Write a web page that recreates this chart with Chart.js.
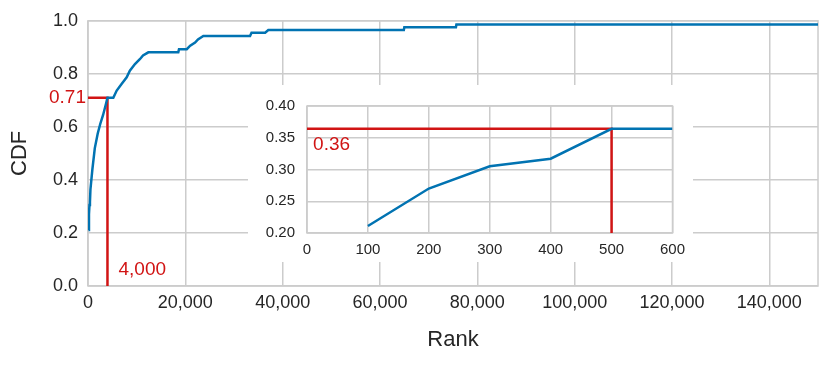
<!DOCTYPE html>
<html>
<head>
<meta charset="utf-8">
<script src="https://cdn.jsdelivr.net/npm/chart.js@4.4.1/dist/chart.umd.min.js"></script>
<style>
  html, body { margin: 0; padding: 0; background: #fff; }
  #wrap { position: relative; width: 831px; height: 365px; }
  #mainChart { position: absolute; left: 0; top: 0; }
  #insetChart { position: absolute; left: 248px; top: 85px; background: #fff; }
</style>
</head>
<body>
<div id="wrap">
  <canvas id="mainChart" width="831" height="365"></canvas>
  <canvas id="insetChart" width="445" height="177"></canvas>
</div>
<script>
// CDF by rank
const ranks = [100, 200, 300, 400, 500, 900, 1400, 2000, 2500, 3100, 3700, 4000,
    5200, 5900, 6900, 7950, 8600, 9650, 10700, 11300, 12400, 18550, 18700, 20300,
    21000, 22000, 22600, 23700, 33300, 33600, 36400, 37050, 64900, 65000, 75600,
    75700, 150000];
const cdf = [0.211, 0.270, 0.305, 0.317, 0.364, 0.44, 0.52, 0.575, 0.61, 0.645, 0.687, 0.71,
    0.71, 0.737, 0.762, 0.787, 0.812, 0.837, 0.856, 0.869, 0.881, 0.881, 0.893, 0.893,
    0.906, 0.918, 0.930, 0.943, 0.943, 0.955, 0.955, 0.965, 0.965, 0.976, 0.976,
    0.986, 0.986];

// zoomed view of the first ranks
const insetRanks = [100, 200, 300, 400, 500, 600];
const insetCdf = [0.211, 0.270, 0.305, 0.317, 0.364, 0.364];

// marker lines
const markRank = 4000, markCdf = 0.71;
const insetMarkRank = 500, insetMarkCdf = 0.364;

// ticks and axis ranges
const xTicksMain = [0, 20000, 40000, 60000, 80000, 100000, 120000, 140000];
const yTicksMain = [0, 0.2, 0.4, 0.6, 0.8, 1.0];
const xTicksInset = [0, 100, 200, 300, 400, 500, 600];
const yTicksInset = [0.20, 0.25, 0.30, 0.35, 0.40];
const xRangeMain = [0, 150000], yRangeMain = [0, 1];
const xRangeInset = [0, 600], yRangeInset = [0.2, 0.4];

const blue = '#0173b2';
const red = '#d11414';
const gridColor = '#cccccc';
const textColor = '#262626';
const fontFamily = '"Liberation Sans", Arial, sans-serif';

function pts(xs, ys) {
    return xs.map((x, i) => ({ x: x, y: ys[i] }));
}

// box round the plot area
const frame = {
    id: 'frame',
    beforeDatasetsDraw(chart) {
        const a = chart.chartArea, ctx = chart.ctx;
        ctx.save();
        ctx.strokeStyle = gridColor;
        ctx.lineWidth = 1.5;
        ctx.strokeRect(a.left, a.top, a.right - a.left, a.bottom - a.top);
        ctx.restore();
    }
};

function labels(items) {
    return {
        id: 'labels',
        afterDatasetsDraw(chart) {
            const ctx = chart.ctx, xs = chart.scales.x, ys = chart.scales.y;
            ctx.save();
            ctx.fillStyle = red;
            ctx.font = '19px ' + fontFamily;
            ctx.textBaseline = 'middle';
            items.forEach(it => {
                ctx.textAlign = it.align;
                ctx.fillText(it.text, xs.getPixelForValue(it.x) + it.dx, ys.getPixelForValue(it.y));
            });
            ctx.restore();
        }
    };
}

function scaleOpts(range, tickVals, size, pad, fmt, fit) {
    return {
        type: 'linear',
        min: range[0], max: range[1],
        grid: { color: gridColor, lineWidth: 1.5, drawTicks: false },
        border: { display: false },
        ticks: {
            padding: pad, autoSkip: false,
            color: textColor, font: { size: size, family: fontFamily },
            callback: fmt
        },
        afterBuildTicks: s => { s.ticks = tickVals.map(v => ({ value: v })); },
        afterFit: fit
    };
}

Chart.defaults.animation = false;

new Chart(document.getElementById('mainChart'), {
    type: 'line',
    data: {
        datasets: [{
            data: pts(ranks, cdf),
            borderColor: blue, borderWidth: 2.5, pointRadius: 0, fill: false
        }, {
            data: pts([0, markRank, markRank], [markCdf, markCdf, 0]),
            borderColor: red, borderWidth: 2.5, pointRadius: 0, fill: false
        }]
    },
    options: {
        responsive: false,
        layout: { padding: { top: 18, right: 13, left: 0, bottom: 0 } },
        plugins: { legend: { display: false }, tooltip: { enabled: false } },
        scales: {
            x: Object.assign(scaleOpts(xRangeMain, xTicksMain, 18, 6, v => v.toLocaleString('en-US'), s => { s.height = 79; }), {
                title: { display: true, text: 'Rank', color: textColor, font: { size: 22, family: fontFamily }, padding: { bottom: 12 } }
            }),
            y: Object.assign(scaleOpts(yRangeMain, yTicksMain, 18, 10, v => v.toFixed(1), s => { s.width = 88; }), {
                title: { display: true, text: 'CDF', color: textColor, font: { size: 22, family: fontFamily }, padding: { top: 7 } }
            })
        }
    },
    plugins: [frame, labels([
        { text: '0.71', x: 0, y: markCdf, dx: -2, align: 'right' },
        { text: '4,000', x: markRank, y: 0.06, dx: 11, align: 'left' }
    ])]
});

new Chart(document.getElementById('insetChart'), {
    type: 'line',
    data: {
        datasets: [{
            data: pts(insetRanks, insetCdf),
            borderColor: blue, borderWidth: 2.5, pointRadius: 0, fill: false
        }, {
            data: pts([0, insetMarkRank, insetMarkRank], [insetMarkCdf, insetMarkCdf, 0.2]),
            borderColor: red, borderWidth: 2.5, pointRadius: 0, fill: false
        }]
    },
    options: {
        responsive: false,
        layout: { padding: { top: 13, right: 20, left: 0, bottom: 0 } },
        plugins: { legend: { display: false }, tooltip: { enabled: false } },
        scales: {
            x: scaleOpts(xRangeInset, xTicksInset, 15, 8, v => String(v), s => { s.height = 29; }),
            y: scaleOpts(yRangeInset, yTicksInset, 15, 12, v => v.toFixed(2), s => { s.width = 59; })
        }
    },
    plugins: [frame, labels([
        { text: '0.36', x: 10, y: 0.339, dx: 0, align: 'left' }
    ])]
});
</script>
</body>
</html>
